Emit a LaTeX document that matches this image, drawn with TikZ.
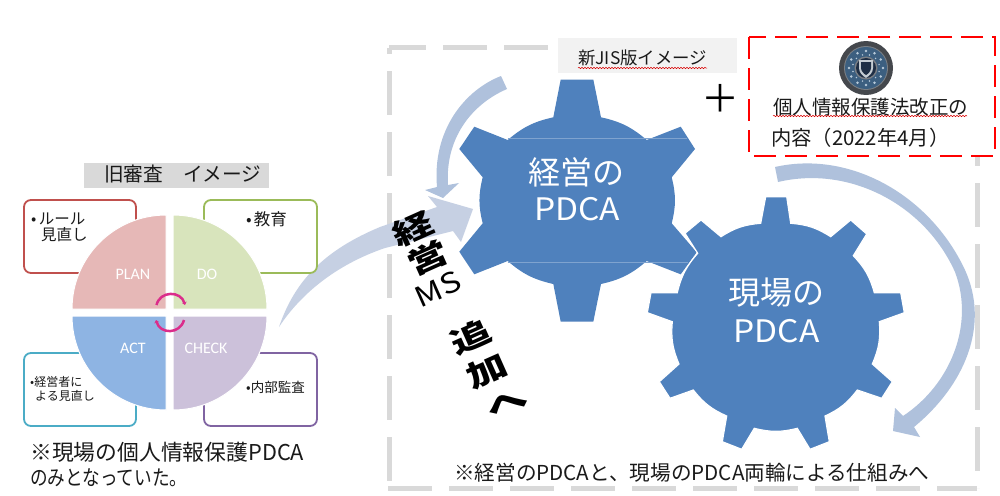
\documentclass[tikz,border=0pt]{standalone}
\usepackage{fontspec}
\setmainfont{Noto Sans CJK JP}
\newfontfamily\calfont{Carlito}
\usetikzlibrary{decorations.pathmorphing,arrows.meta}
\definecolor{gearblue}{HTML}{4F81BD}
\definecolor{gearline}{HTML}{7FA3CF}
\definecolor{bandblue}{HTML}{AFC1DC}
\definecolor{bigarrow}{HTML}{C6D0E3}
\definecolor{dashgray}{HTML}{D9D9D9}
\definecolor{inktext}{HTML}{1A1A1A}
\definecolor{planfill}{HTML}{E6B8B7}
\definecolor{dofill}{HTML}{D8E4BC}
\definecolor{checkfill}{HTML}{CCC1DA}
\definecolor{actfill}{HTML}{8EB4E3}
\definecolor{planline}{HTML}{C0504D}
\definecolor{doline}{HTML}{9BBB59}
\definecolor{actline}{HTML}{4BACC6}
\definecolor{checkline}{HTML}{8064A2}
\definecolor{pinkarc}{HTML}{DB2D8B}
\definecolor{titlebg}{HTML}{F2F2F2}
\definecolor{iconring}{HTML}{45484D}
\definecolor{iconedge}{HTML}{7A7F85}
\definecolor{iconblue}{HTML}{3C5F80}
\definecolor{icondot}{HTML}{B9CBDA}
\definecolor{iconcore}{HTML}{1F2F45}
\definecolor{iconshield}{HTML}{C5CDD3}
\tikzset{
  x=1pt,y=-1pt,
  gearfill/.style={fill=gearblue},
  vly/.style={bend left=14},
  geartext/.style={text=white,font=\fontsize{32}{32}\selectfont,inner sep=0pt},
  gearlatin/.style={geartext,font=\fontsize{31}{31}\selectfont,xscale=1.08},
  wart/.style={text=black,font=\fontsize{36}{36}\selectfont\bfseries,rotate=24,xscale=1.15,yscale=.82,inner sep=0pt},
  wartlatin/.style={text=black,font=\fontsize{33}{33}\selectfont,rotate=24,xscale=1.02,yscale=.85,inner sep=0pt},
  boxline/.style={line width=1.8pt,rounded corners=7pt,fill=white},
  pieslice/.style={draw=white,line width=1pt},
  pielabel/.style={text=white,font=\fontsize{16}{16}\selectfont\calfont,inner sep=0pt},
  plaintext/.style={text=inktext,anchor=west,inner sep=0pt},
  wavy/.style={red!85!black,line width=0.5pt,decorate,decoration={snake,amplitude=0.7pt,segment length=3pt}},
  pinkline/.style={pinkarc,line width=2.5pt},
  framedash/.style={dashgray,line width=5pt,dash pattern=on 44pt off 17pt},
}
\begin{document}
\begin{tikzpicture}
\useasboundingbox (0,0) rectangle (1000,495);
\fill[white] (0,0) rectangle (1000,495);
% right dashed frame
\draw[framedash,dash phase=7pt] (389,48) -- (977,48);
\draw[framedash,dash phase=38pt] (389,48) -- (389,488);
\draw[framedash,dash phase=48pt] (977,48) -- (977,488);
\draw[framedash] (388,488) -- (977,488);
% big arrow
\fill[bigarrow] (279,327) .. controls (295,280) and (325,250) .. (380,227) -- (437,207) -- (428,196) -- (473,209) -- (461,242) -- (453,231) -- (385,248) .. controls (335,265) and (300,295) .. (279,327) -- cycle;
% curved arrows
\fill[bandblue] (501,76) .. controls (465,90) and (432,130) .. (437,187) -- (425,190) -- (443,198) -- (459,183) -- (448,185) .. controls (445,140) and (470,105) .. (507,89) -- cycle;
\fill[bandblue] (775,167) .. controls (850,150) and (930,195) .. (965,270) .. controls (990,325) and (965,385) .. (914,427) -- (920,437) -- (893,431) -- (895,408) -- (903,416) .. controls (950,385) and (975,325) .. (955,272) .. controls (925,205) and (850,165) .. (778,182) -- cycle;
% gear 1
\fill[gearfill] (560.7,79.5) -- (593.3,79.5) -- (601,117.3) to[vly] (646.7,140) -- (680.7,126.7) -- (695,149) -- (671.7,177.3) to[vly] (671.7,223.3) -- (696.7,252.3) -- (680.7,274.3) -- (646.7,261) to[vly] (601,284) -- (593.3,321.7) -- (560.7,321.7) -- (553.3,284) to[vly] (507.7,261) -- (474.3,274.3) -- (459.3,251.7) -- (482.7,223.3) to[vly] (482.7,177.3) -- (459.3,149) -- (474.3,126.7) -- (507.7,140) to[vly] (553.3,117.3) -- cycle;
\draw[gearline,line width=0.5pt] (507.7,138.3) -- (687,138.3);
\draw[gearline,line width=0.5pt] (507.7,262) -- (688,262);
% gear 2
\path[gearfill,draw=white,line width=1.2pt] (765.7,196.7) -- (786.7,196.7) -- (790.7,223.3) to[vly] (830.7,236.7) -- (850.7,220) -- (866.7,234) -- (853.3,255.7) to[vly] (874.3,292.7) -- (900.7,292.7) -- (904.3,312.7) -- (879.3,321.7) to[vly] (872.3,364) -- (892.3,381.7) -- (881.7,398.3) -- (857.3,390) to[vly] (825,416) -- (829.3,441.7) -- (810,449.3) -- (797.3,428.3) to[vly] (754.3,428.3) -- (741.7,449.3) -- (722.3,441.7) -- (726.7,416) to[vly] (693.3,390) -- (670,398.3) -- (659.3,381.7) -- (679,364) to[vly] (672.3,321.7) -- (647.3,312.7) -- (651,292.7) -- (677.3,292.7) to[vly] (697.7,253.3) -- (685,233.3) -- (701,220) -- (721,236.7) to[vly] (760.7,223.3) -- cycle;
\node[geartext] (g1a) at (576,172) {経営の};
\node[gearlatin] (g1b) at (577,209) {PDCA};
\node[geartext] (g2a) at (776,293) {現場の};
\node[gearlatin] (g2b) at (776.5,331) {PDCA};
% wordart
\node[wart] (w1) at (413,229) {経};
\node[wart] (w2) at (428,258) {営};
\node[wartlatin] (w3) at (438,289) {MS};
\node[wart] (w4) at (471,337) {追};
\node[wart] (w5) at (487,371) {加};
\node[wart] (w6) at (507,404) {へ};
% title right
\fill[titlebg] (558,38) rectangle (737,73);
\node[plaintext,font=\fontsize{17.4}{17.4}\selectfont] (t1) at (578,58) {新JIS版イメージ};
\draw[wavy] (578,68) -- (707,68);
% red box
\draw[red,fill=white,line width=2.8pt,dash pattern=on 22pt off 9pt] (749,37) rectangle (995,156);
\node[font=\fontsize{38}{38}\selectfont,text=black,inner sep=0pt] (plus) at (720,98) {＋};
% icon
\fill[iconring] (866,68) circle (27);
\fill[iconedge] (866,68) circle (22);
\fill[iconblue] (866,68) circle (21);
\foreach \a in {0,30,...,330}{\fill[icondot] (866,68) ++(\a:17) circle (1.3);}
\foreach \a in {15,45,...,345}{\fill[icondot] (866,68) ++(\a:13.5) circle (.8);}
\fill[iconedge] (866,68) circle (11.5);
\fill[iconcore] (866,68) circle (10);
\fill[iconshield] (859,60) -- (873,60) -- (873,68) .. controls (873,73) and (869,76) .. (866,78) .. controls (863,76) and (859,73) .. (859,68) -- cycle;
\fill[iconcore] (861,62) -- (871,62) -- (871,68) .. controls (871,71) and (868,74) .. (866,75) .. controls (864,74) and (861,71) .. (861,68) -- cycle;
\node[plaintext,font=\fontsize{19.5}{19.5}\selectfont] (t2) at (773,107) {個人情報保護法改正の};
\draw[wavy] (773,116) -- (967,116);
\node[plaintext,font=\fontsize{20.3}{20.3}\selectfont] (t3) at (771,138) {内容（2022年4月）};
\node[plaintext,font=\fontsize{20.6}{20.6}\selectfont] (t4) at (454,473) {※経営のPDCAと、現場のPDCA両輪による仕組みへ};
% left title
\fill[dashgray] (84,163) rectangle (269,188);
\node[plaintext,font=\fontsize{19.7}{19.7}\selectfont] (t5) at (104,174) {旧審査　イメージ};
% boxes
\draw[boxline,draw=planline] (24,200) rectangle (136,273);
\draw[boxline,draw=doline] (204,200) rectangle (317,273);
\draw[boxline,draw=actline] (24,353) rectangle (136,426);
\draw[boxline,draw=checkline] (204,353) rectangle (317,426);
% pie
\fill[planfill,pieslice] (166,309) -- (72,309) arc[start angle=180,end angle=270,radius=94] -- cycle;
\fill[dofill,pieslice] (173,309) -- (267,309) arc[start angle=0,end angle=-90,radius=94] -- cycle;
\fill[actfill,pieslice] (166,316) -- (72,316) arc[start angle=180,end angle=90,radius=94] -- cycle;
\fill[checkfill,pieslice] (173,316) -- (267,316) arc[start angle=0,end angle=90,radius=94] -- cycle;
\node[pielabel] (plan) at (133,274) {PLAN};
\node[pielabel] (do) at (207,274) {DO};
\node[pielabel] (act) at (133,348) {ACT};
\node[pielabel] (check) at (206,348) {CHECK};
% pink arcs
\draw[pinkline,-{Stealth[length=3pt,width=5pt]}] (156.5,305) .. controls (160,290.5) and (181,290.5) .. (185,305);
\draw[pinkline,-{Stealth[length=3pt,width=5pt]}] (184,320) .. controls (180,334.5) and (160,334.5) .. (156,320);
% box texts
\node[plaintext,font=\fontsize{15.5}{15.5}\selectfont] (a1) at (31,219) {•\hspace{2.5pt}ルール};
\node[plaintext,font=\fontsize{15.5}{15.5}\selectfont] (a2) at (41,235) {見直し};
\node[plaintext,font=\fontsize{16.5}{16.5}\selectfont] (b1) at (246,219) {•\hspace{2pt}教育};
\node[plaintext,font=\fontsize{12}{12}\selectfont] (c1) at (30,382) {•経営者に};
\node[plaintext,font=\fontsize{12}{12}\selectfont] (c2) at (35,396) {よる見直し};
\node[plaintext,font=\fontsize{13.5}{13.5}\selectfont] (d1) at (246,387) {•内部監査};
\node[plaintext,font=\fontsize{21.8}{21.8}\selectfont] (n1) at (30,452) {※現場の個人情報保護PDCA};
\node[plaintext,font=\fontsize{21}{21}\selectfont,xscale=.84,anchor=west] (n2) at (30,478) {のみとなっていた。};
\end{tikzpicture}
\end{document}
